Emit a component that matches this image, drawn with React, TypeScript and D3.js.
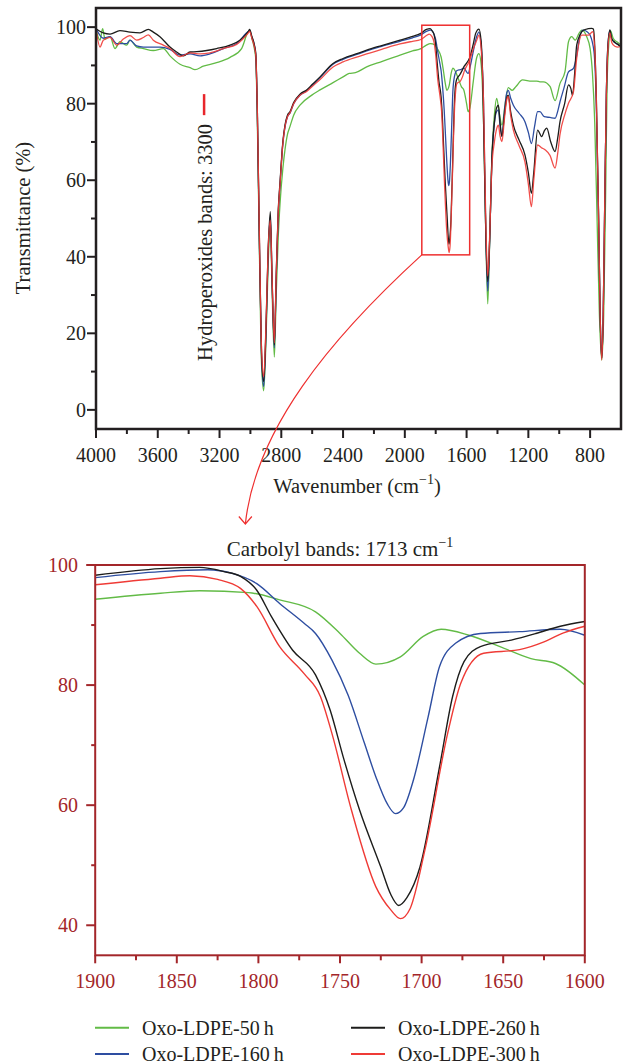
import React from 'react';
import * as d3 from 'd3';

type Pt = [number, number];

// Oxo-LDPE-50 h (green)
const oxo50: Pt[] = [
  [4000, 99.4], [3974, 96.6], [3957, 99.6], [3942, 96.9], [3909, 97.5], [3877, 94.4], [3845, 96.2], [3801, 95.3],
  [3780, 96.6], [3737, 94.8], [3693, 94.4], [3629, 93.9], [3564, 94.4], [3521, 92.5], [3456, 90.3], [3391, 89.4],
  [3359, 88.9], [3305, 89.8], [3219, 90.7], [3132, 92.1], [3057, 94.4], [3013, 98.9], [3005, 99.1], [2990, 97],
  [2975, 94.5], [2965, 91.5], [2955, 75], [2942, 42], [2928, 12], [2914, 5], [2900, 17], [2885, 38], [2871, 48.8],
  [2860, 32], [2845, 13.8], [2833, 30], [2820, 45], [2808, 54], [2790, 63], [2776, 68], [2760, 72], [2744, 74],
  [2720, 77], [2679, 79.6], [2600, 82.3], [2549, 83.6], [2465, 85.5], [2400, 87], [2360, 87.9], [2320, 88.1],
  [2247, 89.6], [2150, 91], [2031, 92.7], [1950, 93.8],
  [1900, 94.3], [1860, 95.3], [1836, 95.7], [1806, 95.4], [1787, 94.2], [1765, 92.2], [1750, 88.6], [1738, 85.3],
  [1728, 83.5], [1713, 84.7], [1699, 88.1], [1688, 89.3], [1671, 88.3], [1652, 86.4], [1633, 84.4], [1618, 83.6],
  [1600, 80],
  [1590, 77.9], [1578, 79], [1557, 85.7], [1536, 91.8], [1520, 93.1], [1505, 90], [1490, 75], [1475, 45], [1463, 27.7],
  [1450, 45], [1437, 65], [1420, 77], [1405, 81.4], [1390, 78], [1371, 74.4], [1350, 80], [1330, 84.2], [1305, 83.5],
  [1280, 84.5], [1238, 86.2], [1178, 85.9], [1146, 85.9], [1125, 85.7], [1103, 85.7], [1060, 84.5], [1027, 80.8],
  [995, 85.3], [963, 88.3], [940, 96.2], [919, 97.5], [897, 96.6], [870, 98.5], [854, 99.2], [822, 97.5], [800, 94.4],
  [785, 88], [770, 75], [755, 50], [740, 25], [725, 13], [712, 25], [700, 55], [690, 85], [680, 95], [668, 99],
  [650, 97], [620, 96], [605, 95.5],
];

// Oxo-LDPE-160 h (blue)
const oxo160: Pt[] = [
  [4000, 99.6], [3953, 97.1], [3909, 97.5], [3866, 95.7], [3801, 95.7], [3780, 96.6], [3737, 95.1], [3693, 94.8],
  [3629, 94.8], [3586, 94.8], [3521, 94.2], [3456, 92.7], [3391, 93], [3326, 92.5], [3262, 93], [3175, 94.4],
  [3089, 95.7], [3013, 98.9], [3005, 99.1], [2990, 97.3], [2975, 95.3], [2965, 92.5], [2955, 77], [2942, 44],
  [2928, 14], [2914, 6.1], [2900, 19], [2885, 41], [2871, 50.5], [2860, 34], [2845, 16.2], [2833, 34], [2820, 51],
  [2808, 59], [2790, 69.5], [2776, 74], [2760, 76.6], [2744, 77.5], [2720, 80], [2679, 82.2], [2636, 83.4],
  [2600, 84.8], [2549, 86.8], [2465, 90.3], [2400, 91.6], [2300, 93], [2247, 93.8], [2150, 95], [2031, 96.3],
  [1950, 97.2],
  [1900, 97.9], [1860, 98.9], [1831, 99.2], [1816, 98.6], [1801, 96.9], [1787, 93.6], [1772, 90.3], [1765, 88.6],
  [1755, 84.2], [1745, 78.3], [1735, 70.3], [1728, 64.7], [1721, 60.2], [1716, 58.6], [1711, 59.6], [1705, 64.2],
  [1696, 74.7], [1689, 83.1], [1679, 87], [1664, 88.6], [1640, 88.9], [1615, 89.3], [1600, 88.3],
  [1590, 87.9], [1575, 90], [1555, 94], [1535, 97.5], [1520, 98.7], [1505, 95], [1490, 80], [1475, 45], [1463, 31],
  [1450, 45], [1437, 64], [1420, 75], [1405, 78], [1394, 78.4], [1383, 74], [1371, 71.5], [1355, 78], [1340, 82.8],
  [1330, 83.5], [1315, 81.5], [1297, 79.6], [1260, 77.5], [1222, 75.3], [1200, 72.5], [1180, 69.6], [1160, 74],
  [1140, 77.9], [1125, 77.9], [1097, 76.6], [1060, 76.4], [1027, 76.2], [1010, 78], [995, 80.5], [970, 84],
  [940, 88.3], [908, 89.2], [885, 93], [865, 97.9], [844, 99.2], [820, 98.8], [800, 97.9], [775, 93.6], [760, 80],
  [745, 50], [735, 25], [725, 13.5], [715, 25], [705, 55], [695, 82], [685, 95], [672, 99], [660, 97], [640, 96],
  [620, 95.5], [605, 95],
];

// Oxo-LDPE-260 h (black)
const oxo260: Pt[] = [
  [4000, 99.6], [3953, 98.5], [3909, 98.2], [3845, 99.1], [3780, 98.7], [3715, 98.5], [3661, 99.4], [3629, 98.7],
  [3586, 97.5], [3521, 94.8], [3478, 93.5], [3434, 92.5], [3391, 93.5], [3348, 93.6], [3283, 93.9], [3219, 94.4],
  [3132, 95.3], [3068, 96.6], [3013, 98.9], [3005, 99.4], [2990, 97.5], [2975, 95.5], [2965, 93], [2955, 78],
  [2942, 45], [2928, 15], [2914, 7.4], [2900, 20], [2885, 42], [2871, 51.8], [2860, 35], [2845, 17], [2833, 35],
  [2820, 52], [2808, 59.6], [2790, 70], [2776, 74.4], [2760, 77], [2744, 77.9], [2720, 80.3], [2679, 82.5],
  [2636, 83.6], [2600, 85], [2549, 87], [2465, 90.5], [2400, 91.8], [2300, 93.2], [2247, 94], [2150, 95.2],
  [2031, 96.6], [1950, 97.6],
  [1900, 98.3], [1860, 99.4], [1836, 99.6], [1821, 98.9], [1811, 98.1], [1801, 95.8], [1792, 91.4], [1779, 85.8],
  [1765, 81.7], [1756, 75.8], [1748, 68], [1738, 59.2], [1725, 49.7], [1719, 45.2], [1714, 43.3], [1709, 44.6],
  [1701, 49.7], [1689, 66.4], [1681, 78.1], [1674, 83.9], [1664, 86.4], [1645, 87.5], [1630, 88.6], [1615, 89.8],
  [1600, 90.6],
  [1580, 92], [1560, 95], [1540, 98.5], [1520, 99.5], [1505, 96], [1495, 85], [1485, 65], [1475, 45], [1463, 33.5],
  [1450, 45], [1437, 64.8], [1420, 75], [1405, 79], [1394, 79.6], [1383, 75], [1371, 71.4], [1355, 77], [1340, 81.5],
  [1330, 82.2], [1315, 78], [1297, 74.4], [1260, 70.5], [1222, 66.6], [1200, 62], [1180, 56.6], [1165, 62],
  [1140, 73.1], [1114, 71.4], [1095, 73], [1081, 73.6], [1055, 70], [1027, 67.5], [1010, 71], [995, 75.3], [965, 80],
  [940, 84.9], [925, 84], [914, 82.2], [900, 88], [887, 95.3], [865, 98], [844, 99.2], [812, 99.6], [790, 99.7],
  [779, 99.5], [770, 95], [760, 82], [745, 50], [735, 25], [725, 13.5], [715, 25], [705, 55], [695, 82], [685, 95],
  [672, 99.3], [660, 97], [640, 96], [620, 95.5], [605, 95],
];

// Oxo-LDPE-300 h (red)
const oxo300: Pt[] = [
  [4000, 99.6], [3974, 94.8], [3953, 96.6], [3909, 97.3], [3866, 95.3], [3823, 96.9], [3780, 97.8], [3737, 96.6],
  [3693, 97.3], [3661, 98], [3629, 96.6], [3564, 95.3], [3521, 94.4], [3456, 92.3], [3391, 93.3], [3326, 93],
  [3262, 93.3], [3175, 94.4], [3089, 95.5], [3013, 98.5], [3005, 98.9], [2990, 97], [2975, 95], [2965, 92.5],
  [2955, 78], [2942, 46], [2928, 16], [2914, 8.7], [2900, 21], [2885, 42], [2871, 49.6], [2860, 35], [2845, 17.5],
  [2833, 35], [2820, 51.5], [2808, 59], [2790, 69.5], [2776, 74], [2760, 76.6], [2744, 77.6], [2720, 80],
  [2679, 82.2], [2636, 83.2], [2600, 84.5], [2549, 86.3], [2465, 89.6], [2400, 90.9], [2300, 92.3], [2247, 93],
  [2150, 94.2], [2031, 95.6], [1950, 96.3],
  [1900, 96.7], [1860, 97.8], [1842, 98.2], [1825, 97.6], [1811, 96.1], [1801, 93.1], [1787, 86.4], [1772, 81.9],
  [1762, 78.1], [1755, 72], [1743, 59.2], [1728, 46.4], [1719, 42.6], [1713, 41.1], [1707, 42.8], [1698, 52.5],
  [1684, 72], [1676, 80.3], [1662, 85.3], [1640, 85.9], [1625, 87.2], [1613, 88.7], [1600, 89.8],
  [1590, 90.5], [1575, 92], [1555, 94.5], [1535, 96.5], [1520, 97.9], [1505, 94], [1490, 80], [1475, 48], [1463, 35],
  [1450, 46], [1437, 63], [1420, 70], [1405, 73.5], [1394, 74.4], [1383, 71.5], [1371, 70.1], [1355, 76], [1340, 81],
  [1330, 81.9], [1315, 77], [1297, 73.1], [1260, 69], [1222, 64.8], [1200, 59], [1180, 53.1], [1165, 60], [1140, 69.2],
  [1115, 68.5], [1090, 67.9], [1060, 66.5], [1027, 63.2], [1010, 67], [995, 72], [965, 77], [940, 80.1], [908, 83.1],
  [887, 91.8], [854, 97.9], [812, 97.9], [783, 98.8], [770, 94], [760, 82], [745, 50], [735, 25], [725, 13], [715, 25],
  [705, 55], [695, 82], [685, 94], [672, 98.5], [660, 96], [640, 95], [620, 94.8], [605, 94.9],
];

const seriesNames = ['Oxo-LDPE-50\u2009h', 'Oxo-LDPE-160\u2009h', 'Oxo-LDPE-260\u2009h', 'Oxo-LDPE-300\u2009h'];
const seriesData = [oxo50, oxo160, oxo260, oxo300];
const seriesColors = ['#62bb46', '#2e4ea1', '#1d1d1b', '#ef3b36'];

const topXTicks = [4000, 3600, 3200, 2800, 2400, 2000, 1600, 1200, 800];
const topXMinor = [3800, 3400, 3000, 2600, 2200, 1800, 1400, 1000];
const topYTicks = [0, 20, 40, 60, 80, 100];
const topYMinor = [10, 30, 50, 70, 90];
const zoomXTicks = [1900, 1850, 1800, 1750, 1700, 1650, 1600];
const zoomXMinor = [1875, 1825, 1775, 1725, 1675, 1625];
const zoomYTicks = [40, 60, 80, 100];
const zoomYMinor = [50, 70, 90];

const FONT = "'Liberation Serif', 'Times New Roman', serif";
const INK = '#231f20';
const DARKRED = '#a3262a';

export default function App() {
  // top chart
  const xT = d3.scaleLinear().domain([4000, 600]).range([96, 621]);
  const yT = d3.scaleLinear().domain([-5, 105]).range([429, 8]);
  // zoom chart
  const xB = d3.scaleLinear().domain([1900, 1600]).range([95.2, 584.8]);
  const yB = d3.scaleLinear().domain([35, 100]).range([955.3, 565]);

  const lineT = d3.line<Pt>().x(d => xT(d[0])).y(d => yT(d[1])).curve(d3.curveMonotoneX);
  const lineB = d3.line<Pt>().x(d => xB(d[0])).y(d => yB(d[1])).curve(d3.curveMonotoneX);

  const tL = xT.range()[0], tR = xT.range()[1], tTop = yT.range()[1], tBot = yT.range()[0];
  const bL = xB.range()[0], bR = xB.range()[1], bTop = yB.range()[1], bBot = yB.range()[0];

  // zoom box in top chart
  const boxX0 = xT(1890), boxX1 = xT(1580), boxY0 = yT(100.5), boxY1 = yT(40.5);
  const tipX = xB(1808), tipY = bTop - 41;
  const arrowPath = `M${boxX0},${boxY1} C${boxX0 - 93},${boxY1 + 85} ${tipX + 10},${tipY - 94} ${tipX},${tipY}`;

  const legendRows = [1027.7, 1054];
  const legendCols = [95, 351];

  return (
    <svg width={624} height={1064} style={{ position: 'absolute', left: 0, top: 0, background: '#fff' }}
      fontFamily={FONT}>
      <defs>
        <clipPath id="clipTop"><rect x={tL} y={tTop} width={tR - tL} height={tBot - tTop} /></clipPath>
        <clipPath id="clipBot"><rect x={bL} y={bTop} width={bR - bL} height={bBot - bTop} /></clipPath>
      </defs>

      {/* ===== Top chart ===== */}
      <g clipPath="url(#clipTop)">
        {seriesData.map((s, i) => (
          <path key={i} d={lineT(s) || ''} fill="none" stroke={seriesColors[i]} strokeWidth={1.3}
            strokeLinejoin="round" opacity={i === 3 ? 0.9 : 1} />
        ))}
      </g>
      <rect x={tL} y={tTop} width={tR - tL} height={tBot - tTop} fill="none" stroke={INK} strokeWidth={2.5} />
      {topYTicks.map(v => (
        <g key={'ty' + v}>
          <line x1={tL - 9} x2={tL} y1={yT(v)} y2={yT(v)} stroke={INK} strokeWidth={2} />
          <text x={tL - 10} y={yT(v) + 7} textAnchor="end" fontSize={20} fill={INK}>{v}</text>
        </g>
      ))}
      {topYMinor.map(v => (
        <line key={'tym' + v} x1={tL - 5} x2={tL} y1={yT(v)} y2={yT(v)} stroke={INK} strokeWidth={2} />
      ))}
      {topXTicks.map(v => (
        <g key={'tx' + v}>
          <line x1={xT(v)} x2={xT(v)} y1={tBot} y2={tBot + 9} stroke={INK} strokeWidth={2} />
          <text x={xT(v)} y={tBot + 33} textAnchor="middle" fontSize={20} fill={INK}>{v}</text>
        </g>
      ))}
      {topXMinor.map(v => (
        <line key={'txm' + v} x1={xT(v)} x2={xT(v)} y1={tBot} y2={tBot + 5} stroke={INK} strokeWidth={2} />
      ))}
      <text transform={`translate(30,218) rotate(-90)`} textAnchor="middle" fontSize={20.5} fill={INK}>
        Transmittance (%)
      </text>
      <text x={357} y={493} textAnchor="middle" fontSize={20.5} fill={INK}>
        <tspan>Wavenumber (cm</tspan>
        <tspan dy={-9} fontSize={14}>−1</tspan>
        <tspan dy={9}>)</tspan>
      </text>

      {/* hydroperoxide annotation */}
      <line x1={xT(3300)} x2={xT(3300)} y1={yT(82.5)} y2={yT(77)} stroke="#e8262b" strokeWidth={2.5} />
      <text transform={`translate(212,242.5) rotate(-90)`} textAnchor="middle" fontSize={20.5} fill={INK}>
        Hydroperoxides bands: 3300
      </text>

      {/* zoom box and connector */}
      <rect x={boxX0} y={boxY0} width={boxX1 - boxX0} height={boxY1 - boxY0} fill="none" stroke="#ee2f2f" strokeWidth={1.5} />
      <path d={arrowPath} fill="none" stroke="#ee2f2f" strokeWidth={1.2} />
      <path d={`M${tipX - 6.5},${tipY - 7.5} L${tipX},${tipY} L${tipX + 6.5},${tipY - 7.5}`} fill="none" stroke="#ee2f2f" strokeWidth={1.2} />

      {/* ===== Zoom chart ===== */}
      <text x={340} y={556} textAnchor="middle" fontSize={21} fill={INK}>
        <tspan>Carbolyl bands: 1713 cm</tspan>
        <tspan dy={-9} fontSize={14}>−1</tspan>
      </text>
      <g clipPath="url(#clipBot)">
        {seriesData.map((s, i) => (
          <path key={i} d={lineB(s.filter(d => d[0] <= 1900 && d[0] >= 1600)) || ''} fill="none"
            stroke={seriesColors[i]} strokeWidth={1.4} strokeLinejoin="round" />
        ))}
      </g>
      <rect x={bL} y={bTop} width={bR - bL} height={bBot - bTop} fill="none" stroke={DARKRED} strokeWidth={2} />
      {zoomYTicks.map(v => (
        <g key={'by' + v}>
          <line x1={bL - 9} x2={bL} y1={yB(v)} y2={yB(v)} stroke={DARKRED} strokeWidth={2} />
          <text x={78} y={yB(v) + 7} textAnchor="end" fontSize={20} fill={DARKRED}>{v}</text>
        </g>
      ))}
      {zoomYMinor.map(v => (
        <line key={'bym' + v} x1={bL - 4} x2={bL} y1={yB(v)} y2={yB(v)} stroke={DARKRED} strokeWidth={2} />
      ))}
      {zoomXTicks.map(v => (
        <g key={'bx' + v}>
          <line x1={xB(v)} x2={xB(v)} y1={bBot} y2={bBot + 8} stroke={DARKRED} strokeWidth={2} />
          <text x={xB(v)} y={988} textAnchor="middle" fontSize={20} fill={DARKRED}>{v}</text>
        </g>
      ))}
      {zoomXMinor.map(v => (
        <line key={'bxm' + v} x1={xB(v)} x2={xB(v)} y1={bBot} y2={bBot + 5} stroke={DARKRED} strokeWidth={2} />
      ))}

      {/* legend */}
      {seriesNames.map((name, i) => {
        const col = i < 2 ? 0 : 1;
        const row = i % 2;
        const lx = legendCols[col];
        const ly = legendRows[row];
        return (
          <g key={name}>
            <line x1={lx} x2={lx + 34} y1={ly} y2={ly} stroke={seriesColors[i]} strokeWidth={2} />
            <text x={lx + 47} y={ly + 7} fontSize={20} fill={INK}>{name}</text>
          </g>
        );
      })}
    </svg>
  );
}
